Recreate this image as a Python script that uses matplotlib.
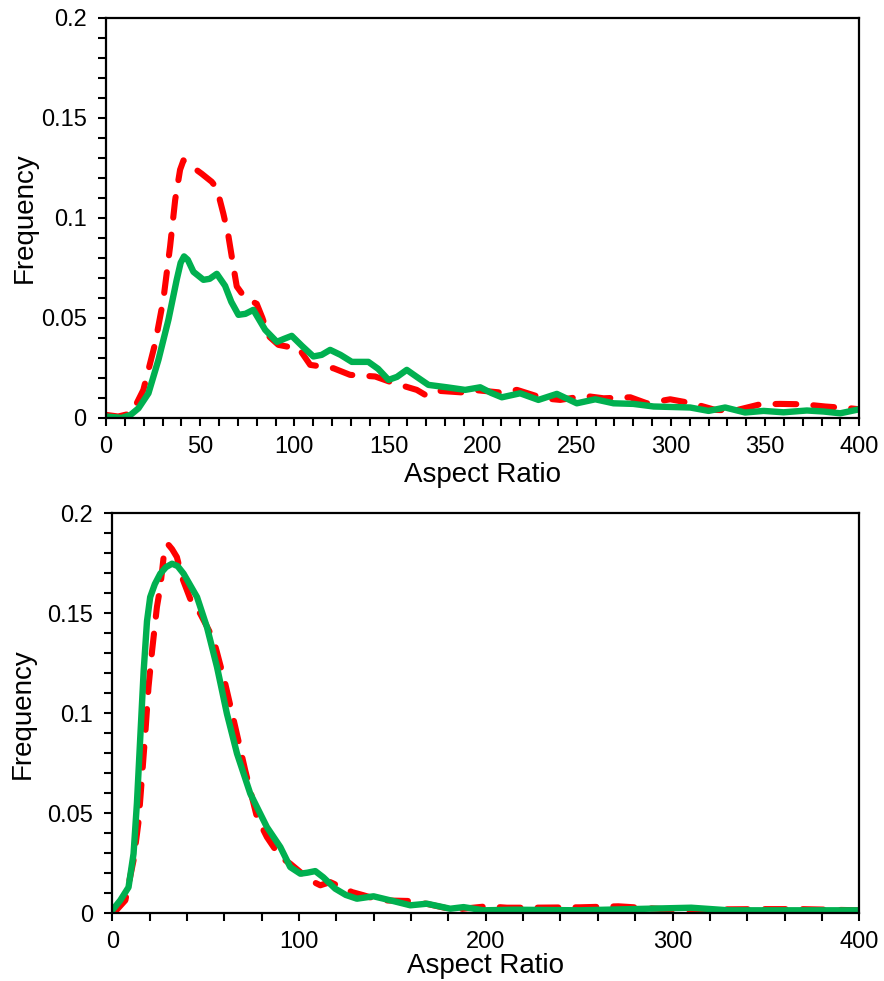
import matplotlib.pyplot as plt
from matplotlib.ticker import MultipleLocator

plt.rcParams["font.family"] = ["Liberation Sans", "DejaVu Sans"]

# top panel
top_red_x = [0, 6.4, 13.6, 19.8, 26, 30.4, 34, 36.7, 39.3, 41.1, 45, 50.8, 56.1, 58.8,
             62.3, 65, 67.6, 69.4, 73.8, 80, 83, 86.2, 91.5, 97, 102.2, 108.4, 120.8,
             129.6, 142.9, 151.8, 165, 169.5, 173.9, 189.8, 195.1, 209.3, 218.2,
             232.3, 241.2, 254.4, 264.2, 278.4, 287.2, 299.6, 311.1, 323.5, 334.1,
             347.4, 358, 370.4, 381.9, 395.2, 400]
top_red_y = [0.0015, 0.0007, 0.0023, 0.014, 0.037, 0.059, 0.0857, 0.109, 0.124, 0.1287,
             0.126, 0.122, 0.118, 0.1148, 0.102, 0.0907, 0.0757, 0.0657, 0.060, 0.057,
             0.050, 0.041, 0.0365, 0.0355, 0.035, 0.0265, 0.0248, 0.0215, 0.0207,
             0.0177, 0.014, 0.0115, 0.0137, 0.0127, 0.014, 0.0127, 0.014, 0.0098,
             0.009, 0.011, 0.0098, 0.0103, 0.0073, 0.0093, 0.0073, 0.004, 0.0037,
             0.0068, 0.007, 0.0068, 0.0057, 0.0048, 0.0043]

top_green_x = [0, 8.3, 13, 17.2, 22.5, 27.8, 33.1, 37.5, 39.6, 41.4, 43.4, 46.4, 51.7,
               55, 58.8, 63.2, 66.5, 70.3, 74, 78.2, 84.5, 90.7, 94.5, 98.6, 104, 110.1,
               114.5, 119, 124.5, 130.5, 139.3, 144.5, 150, 154.5, 159.7, 165, 171.2,
               181, 190.7, 198.7, 204.5, 210.2, 219.9, 229.6, 239.4, 250, 259.8,
               269.5, 280, 290.8, 310.2, 320, 328.8, 339.4, 349.2, 359.8, 372.2, 381,
               389.9, 400]
top_green_y = [0.0007, 0.0, 0.0015, 0.0048, 0.0123, 0.029, 0.049, 0.069, 0.0775, 0.0807,
               0.079, 0.073, 0.069, 0.0695, 0.072, 0.066, 0.058, 0.0515, 0.052, 0.054,
               0.044, 0.038, 0.0395, 0.041, 0.036, 0.0307, 0.0315, 0.034, 0.0315,
               0.028, 0.028, 0.0245, 0.019, 0.0205, 0.024, 0.0205, 0.0165, 0.0153,
               0.014, 0.0153, 0.0125, 0.0103, 0.0123, 0.009, 0.012, 0.0073, 0.0093,
               0.0073, 0.007, 0.0057, 0.0052, 0.0035, 0.0052, 0.0027, 0.0035, 0.0028,
               0.0037, 0.0032, 0.0023, 0.0043]

# bottom panel
bot_red_x = [0.7, 7, 11.4, 14.1, 15.9, 17.7, 19.4, 21.3, 23.9, 25.7, 27.5, 29.6, 32,
             34.6, 37.3, 41.8, 47.1, 54.2, 60.5, 65.9, 71.2, 77.5, 82.8, 90, 95.3, 106,
             111.4, 116.7, 128.4, 134.6, 143.5, 161.3, 172, 182.8, 200.6, 211.3,
             223.8, 250.6, 271, 300, 347, 368.5, 400]
bot_red_y = [0.0, 0.0065, 0.0265, 0.046, 0.068, 0.09, 0.113, 0.131, 0.153, 0.163, 0.178,
             0.1847, 0.182, 0.178, 0.168, 0.157, 0.1497, 0.137, 0.1147, 0.093, 0.0714,
             0.048, 0.0381, 0.0281, 0.0248, 0.0165, 0.014, 0.0156, 0.0106, 0.009,
             0.0065, 0.0061, 0.004, 0.0018, 0.0035, 0.0028, 0.0028, 0.003, 0.0035,
             0.0018, 0.0021, 0.0021, 0.0015]

bot_green_x = [0, 4.3, 8.7, 11.4, 13.2, 15, 16.8, 18.6, 20.3, 22.8, 25.7, 28.8, 32, 35,
               38.2, 45.4, 50.7, 56.1, 61.4, 66.8, 73.9, 82.8, 90, 95.3, 100.7, 104.5,
               108.7, 113, 119.4, 125, 131, 139.9, 150.6, 159.6, 168.5, 181, 188.1,
               198.8, 214.9, 250.6, 310, 330, 400]
bot_green_y = [0.0015, 0.0065, 0.013, 0.0298, 0.055, 0.088, 0.121, 0.146, 0.158, 0.1645,
               0.1697, 0.173, 0.1747, 0.1735, 0.1697, 0.158, 0.143, 0.123, 0.0997,
               0.0798, 0.0598, 0.0431, 0.0331, 0.0231, 0.0198, 0.0203, 0.0211, 0.018,
               0.0123, 0.0092, 0.0073, 0.0085, 0.0061, 0.004, 0.0048, 0.0023, 0.0031,
               0.0015, 0.0018, 0.0015, 0.0028, 0.0015, 0.0015]

RED = "#FF0000"
GREEN = "#00B050"

fig = plt.figure(figsize=(8.84, 9.81), dpi=100)
ax1 = fig.add_axes([0.120, 0.574, 0.852, 0.408])
ax2 = fig.add_axes([0.127, 0.069, 0.845, 0.408])


def style(ax, xmajor, xminor, ylab_x, xlab_y):
    ax.set_xlim(0, 400)
    ax.set_ylim(0, 0.2)
    ax.xaxis.set_major_locator(MultipleLocator(xmajor))
    ax.xaxis.set_minor_locator(MultipleLocator(xminor))
    ax.yaxis.set_minor_locator(MultipleLocator(0.01))
    ax.set_yticks([0, 0.05, 0.1, 0.15, 0.2], ["0", "0.05", "0.1", "0.15", "0.2"])
    ax.tick_params(which="both", direction="out", length=6, width=1.5,
                   top=False, right=False, labelsize=17, color="black")
    ax.tick_params(axis="y", pad=8)
    ax.tick_params(axis="x", pad=7)
    for s in ax.spines.values():
        s.set_linewidth(1.6)
    ax.set_xlabel("Aspect Ratio", fontsize=20)
    ax.set_ylabel("Frequency", fontsize=20)
    ax.yaxis.set_label_coords(ylab_x, 0.5)
    ax.xaxis.set_label_coords(0.5, xlab_y)


ax1.plot(top_red_x, top_red_y, color=RED, lw=4.4, dashes=(3.4, 2.8),
         dash_capstyle="round", dash_joinstyle="round")
ax1.plot(top_green_x, top_green_y, color=GREEN, lw=4.6,
         solid_capstyle="round", solid_joinstyle="round")
style(ax1, 50, 10, -0.091, -0.11)

ax2.plot(bot_red_x, bot_red_y, color=RED, lw=4.4, dashes=(3.4, 2.8),
         dash_capstyle="round", dash_joinstyle="round")
ax2.plot(bot_green_x, bot_green_y, color=GREEN, lw=4.6,
         solid_capstyle="round", solid_joinstyle="round")
style(ax2, 100, 20, -0.103, -0.10)

fig.savefig("out.png", dpi=100)
plt.close(fig)
